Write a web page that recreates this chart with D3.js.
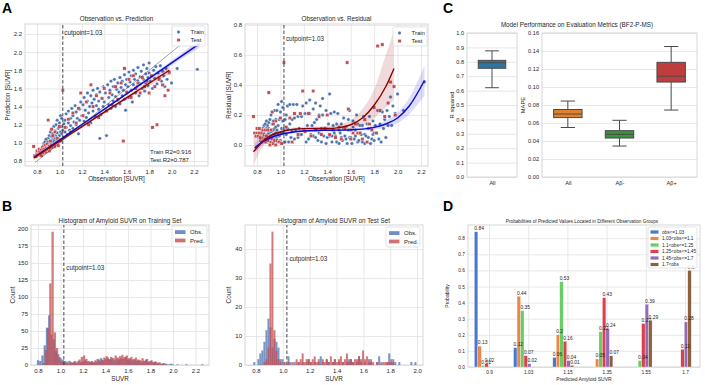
<!DOCTYPE html>
<html>
<head>
<meta charset="utf-8">
<script src="https://cdn.jsdelivr.net/npm/d3@7/dist/d3.min.js"></script>
<style>
  body { margin: 0; background: #fff; }
  svg { display: block; }
</style>
</head>
<body>
<div id="fig"></div>
<script>
// ---------- data ----------
var cutpoint = 1.03;
var r2TrainText = "Train R2=0.916", r2TestText = "Test R2=0.787";

// [observation, prediction]
var trainPts = [
  [0.80,0.86],[0.81,0.88],[0.82,0.87],[0.83,0.90],[0.84,0.89],[0.84,0.93],[0.85,0.88],[0.85,0.91],[0.86,0.95],[0.86,0.90],
  [0.87,0.92],[0.87,0.97],[0.87,0.89],[0.88,0.93],[0.88,0.99],[0.88,0.91],[0.89,0.94],[0.89,1.02],[0.89,0.96],[0.90,0.92],
  [0.90,0.98],[0.90,1.05],[0.90,0.95],[0.91,0.93],[0.91,1.00],[0.91,0.97],[0.91,1.08],[0.92,0.95],[0.92,1.01],[0.92,0.98],
  [0.92,1.12],[0.93,0.96],[0.93,1.03],[0.93,0.99],[0.93,1.15],[0.94,0.97],[0.94,1.04],[0.94,1.10],[0.95,0.99],[0.95,1.06],
  [0.95,1.18],[0.96,1.00],[0.96,1.08],[0.96,1.13],[0.97,1.02],[0.97,1.20],[0.97,1.07],[0.98,1.04],[0.98,1.11],[0.98,1.25],
  [0.99,1.05],[0.99,1.16],[1.00,1.08],[1.00,1.22],[1.00,1.03],[1.01,1.12],[1.01,1.30],[1.02,1.10],[1.02,1.18],[1.02,1.27],
  [0.83,0.86],[0.86,0.99],[0.88,1.04],[0.90,1.01],[0.92,0.93],[0.94,1.01],[0.96,1.04],[0.98,1.00],[0.89,0.91],[0.87,1.01],
  [0.85,0.96],[0.93,1.07],[0.95,1.02],[0.91,0.95],[0.97,0.99],
  [1.03,1.14],[1.04,1.21],[1.04,1.06],[1.05,1.25],[1.05,1.12],[1.06,1.32],[1.06,1.17],[1.07,1.09],[1.08,1.22],[1.08,1.35],
  [1.09,1.14],[1.10,1.27],[1.10,1.19],[1.11,1.38],[1.12,1.16],[1.12,1.30],[1.13,1.23],[1.14,1.41],[1.15,1.20],[1.15,1.34],
  [1.16,1.27],[1.17,1.10],[1.18,1.37],[1.18,1.25],[1.19,1.45],
  [1.20,1.30],[1.21,1.42],[1.22,1.24],[1.22,1.50],[1.23,1.36],[1.24,1.28],[1.25,1.46],[1.25,1.55],[1.26,1.33],[1.27,1.40],
  [1.28,1.52],[1.28,1.22],[1.29,1.44],[1.30,1.35],[1.30,1.58],[1.31,1.48],[1.32,1.29],[1.33,1.41],[1.33,1.53],[1.34,1.60],
  [1.35,1.37],[1.35,1.46],[1.36,1.05],[1.36,1.56],[1.37,1.31],[1.38,1.49],[1.39,1.62],[1.39,1.40],
  [1.40,1.45],[1.41,1.55],[1.42,1.08],[1.42,1.36],[1.43,1.64],[1.44,1.50],[1.44,1.42],[1.45,1.58],[1.46,1.68],[1.46,1.38],
  [1.47,1.53],[1.48,1.46],[1.48,1.62],[1.49,1.70],[1.50,1.51],[1.50,1.40],[1.51,1.59],[1.52,1.66],[1.52,1.47],[1.53,1.56],
  [1.54,1.72],[1.54,1.43],[1.55,1.61],[1.56,1.52],[1.56,1.68],[1.57,1.58],[1.58,1.75],[1.58,1.48],[1.59,1.64],[1.60,1.55],
  [1.60,1.70],[1.59,1.36],
  [1.61,1.62],[1.62,1.78],[1.62,1.50],[1.63,1.67],[1.64,1.58],[1.64,1.74],[1.65,1.45],[1.66,1.64],[1.66,1.80],[1.67,1.70],
  [1.68,1.55],[1.68,1.76],[1.69,1.62],[1.70,1.83],[1.70,1.68],[1.71,1.52],[1.72,1.73],[1.72,1.65],[1.73,1.79],[1.74,1.60],
  [1.75,1.86],[1.75,1.70],[1.76,1.57],[1.77,1.76],[1.77,1.66],[1.78,1.82],[1.79,1.63],[1.79,1.72],[1.80,1.77],[1.80,1.88],
  [1.81,1.68],[1.82,1.74],[1.83,1.60],[1.84,1.80],[1.85,1.71],[1.86,1.84],[1.87,1.65],[1.88,1.77],[1.89,1.72],[1.90,1.85],
  [1.91,1.68],[1.92,1.79],[1.93,1.74],[1.94,1.62],[1.95,1.82],[1.96,1.70],[1.98,1.77],[2.00,1.66],[2.05,1.82],[2.23,1.81]
];
var testPts = [
  [0.77,0.96],[0.78,0.86],[0.79,0.85],[0.80,0.88],[0.80,0.91],[0.81,0.87],[0.82,0.90],[0.82,0.93],[0.83,0.88],[0.84,0.92],
  [0.84,0.86],[0.85,0.90],[0.85,0.95],[0.86,0.89],[0.86,0.93],[0.87,0.91],[0.87,0.97],[0.88,0.90],[0.88,0.94],[0.89,0.92],
  [0.89,0.99],[0.90,1.25],[0.90,0.93],[0.91,0.96],[0.91,0.91],[0.92,1.02],[0.92,0.94],[0.93,0.97],[0.93,1.15],[0.94,0.95],
  [0.94,1.08],[0.95,0.98],[0.96,0.96],[0.96,1.12],[0.97,1.00],[0.98,1.05],[0.99,0.97],[1.00,1.18],[1.01,1.02],
  [1.03,1.58],[1.05,1.17],[1.08,1.26],[1.10,1.12],[1.12,1.33],[1.15,1.22],[1.17,1.38],[1.19,1.55],[1.21,1.30],[1.24,1.45],
  [1.26,1.20],[1.28,1.64],[1.30,1.40],[1.33,1.52],[1.35,1.28],[1.38,1.49],[1.40,1.60],[1.42,1.35],[1.45,1.55],[1.47,1.42],
  [1.50,1.62],[1.52,1.48],[1.55,1.66],[1.57,1.02],[1.58,1.82],[1.60,1.56],[1.62,1.70],[1.64,1.50],[1.66,1.74],[1.68,1.60],
  [1.70,1.66],[1.72,1.55],[1.74,1.72],[1.76,1.62],[1.78,1.68],[1.80,1.55],[1.82,1.74],[1.83,1.17],[1.85,1.62],[1.87,1.20],
  [1.89,1.70],[1.92,1.64],[1.94,1.52],[1.97,1.58],[1.98,1.78]
];

// linear fits (panel A, left)
var identityX = [0.78, 2.18];
var trainLineX  = [0.78, 1.0, 1.3, 1.7, 2.25];
var trainLineY  = [0.844, 1.031, 1.286, 1.626, 2.094];
var trainLineLo = [0.826, 1.021, 1.278, 1.614, 2.054];
var trainLineHi = [0.862, 1.041, 1.294, 1.638, 2.134];
var testLineX   = [0.77, 1.0, 1.3, 1.7, 1.98];
var testLineY   = [0.835, 1.018, 1.258, 1.577, 1.80];
var testLineLo  = [0.805, 1.000, 1.243, 1.552, 1.755];
var testLineHi  = [0.865, 1.036, 1.273, 1.602, 1.845];

// polynomial fits of residuals (panel A, right)
var trainResX  = [0.78, 0.85, 0.92, 1.0, 1.1, 1.2, 1.3, 1.4, 1.5, 1.6, 1.7, 1.8, 1.9, 2.0, 2.1, 2.23];
var trainResY  = [-0.02, 0.022, 0.05, 0.07, 0.085, 0.093, 0.097, 0.098, 0.099, 0.101, 0.106, 0.118, 0.14, 0.18, 0.26, 0.43];
var trainResLo = [-0.055, 0.0, 0.036, 0.06, 0.077, 0.086, 0.09, 0.091, 0.092, 0.093, 0.096, 0.104, 0.118, 0.145, 0.205, 0.33];
var trainResHi = [0.015, 0.044, 0.064, 0.08, 0.093, 0.1, 0.104, 0.105, 0.106, 0.109, 0.116, 0.132, 0.162, 0.215, 0.315, 0.53];
var testResX   = [0.77, 0.82, 0.87, 0.92, 1.0, 1.1, 1.2, 1.3, 1.4, 1.5, 1.6, 1.7, 1.8, 1.9, 1.97];
var testResY   = [-0.045, 0.0, 0.038, 0.064, 0.087, 0.103, 0.109, 0.11, 0.11, 0.116, 0.135, 0.18, 0.265, 0.39, 0.51];
var testResLo  = [-0.14, -0.05, 0.01, 0.045, 0.072, 0.09, 0.097, 0.097, 0.095, 0.095, 0.105, 0.13, 0.18, 0.25, 0.3];
var testResHi  = [0.06, 0.05, 0.066, 0.083, 0.102, 0.116, 0.121, 0.123, 0.125, 0.137, 0.165, 0.24, 0.37, 0.6, 0.76];

// histograms, panel B
var trainObsStart = 0.79, trainObsWidth = 0.02;
var trainObsCounts = [7,6,14,29,55,73,45,38,21,16,10,8,6,5,6,4,5,3,6,4,5,7,5,4,6,4,5,8,10,7,
  9,11,8,10,7,9,8,10,9,12,8,9,7,8,6,7,5,6,8,5,6,4,5,3,4,2,3,2,1,2,1,0,1,0,0,0,1,0,0,0,0,0,0,1];
var trainPredStart = 0.84, trainPredWidth = 0.02;
var trainPredCounts = [3,22,54,120,196,48,25,12,6,4,3,2,4,3,6,4,8,12,14,9,6,5,4,7,9,6,8,11,13,9,
  12,10,14,11,13,15,12,14,10,12,9,11,8,7,10,6,9,5,7,4,5,3,2,2,1];
var testObsStart = 0.78, testObsWidth = 0.015;
var testObsCounts = [1,0,2,4,5,8,12,16,13,6,9,8,6,2,2,1,0,3,1,0,1,0,1,0,1,0,1,2,1,0,
  1,0,1,3,1,0,2,1,0,1,2,0,1,0,1,0,1,2,2,1,0,1,3,1,0,1,0,2,1,0,0,1,3,0,1,0,1,4,1,2,1,0,1,0,0,0,0,0,1,0,1];
var testPredStart = 0.84, testPredWidth = 0.015;
var testPredCounts = [0,1,2,6,35,46,12,5,2,1,0,1,0,1,0,1,0,2,1,2,4,1,2,2,1,2,3,1,2,0,
  2,1,2,1,3,1,2,1,2,3,1,2,4,1,2,1,2,2,3,2,5,2,3,1,2,1,0,1,0,1,0,1,1,1,2,1];

// box plots, panel C
var r2Groups = ["All"];
var r2Lo = [0.62], r2Q1 = [0.755], r2Med = [0.793], r2Q3 = [0.81], r2Hi = [0.876];
var mapeGroups = ["All", "A\u03b2-", "A\u03b2+"];
var mapeLo  = [0.055, 0.0344, 0.0744];
var mapeQ1  = [0.066, 0.0433, 0.1055];
var mapeMed = [0.070, 0.0474, 0.112];
var mapeQ3  = [0.075, 0.0515, 0.1274];
var mapeHi  = [0.0844, 0.063, 0.145];

// grouped bars, panel D
var predGroups = ["0.9", "1.03", "1.15", "1.35", "1.55", "1.7"];
var obsGroupNames = ["obs<=1.03", "1.03<obs<=1.1", "1.1<obs<=1.25", "1.25<obs<=1.45", "1.45<obs<=1.7", "1.7<obs"];
var probObsLe103   = [0.84, 0.12, 0.06, 0, 0, 0];
var probObs103to11 = [0.13, 0.44, 0.2, 0.05, 0, 0];
var probObs11to125 = [0.01, 0.35, 0.53, 0.22, 0.04, 0];
var probObs125to145 = [0.02, 0.07, 0.16, 0.43, 0.27, 0.11];
var probObs145to17 = [0, 0.02, 0.04, 0.24, 0.39, 0.28];
var probObsGt17    = [0, 0, 0.01, 0.07, 0.29, 0.6];

// tick labels
var suvrTicks = [0.8, 1.0, 1.2, 1.4, 1.6, 1.8, 2.0, 2.2];
var suvrTicksTest = [0.8, 1.0, 1.2, 1.4, 1.6, 1.8, 2.0];
var residTicks = [0.0, 0.2, 0.4, 0.6, 0.8];
var countTicksTrain = [0, 25, 50, 75, 100, 125, 150, 175, 200];
var countTicksTest = [0, 10, 20, 30, 40];
var r2Ticks = [0, 0.1, 0.2, 0.3, 0.4, 0.5, 0.6, 0.7, 0.8, 0.9, 1.0];
var mapeTicks = [0, 0.02, 0.04, 0.06, 0.08, 0.10, 0.12, 0.14, 0.16];
var probTicks = [0, 0.1, 0.2, 0.3, 0.4, 0.5, 0.6, 0.7, 0.8];

// ---------- drawing ----------
var FONT = "Liberation Sans, Arial, sans-serif";
var BLUE = "#4c72b0", RED = "#c44e52";
var FIT_BLUE = "#0b0bd0", FIT_RED = "#900000";

var svg = d3.select("#fig").append("svg").attr("width", 705).attr("height", 385);
svg.append("rect").attr("width", 705).attr("height", 385).attr("fill", "#fff");

function txt(x, y, s, size, o) {
  o = o || {};
  var t = svg.append("text")
    .attr("x", x).attr("y", y)
    .attr("font-family", FONT)
    .attr("font-size", size)
    .attr("fill", o.fill || "#262626")
    .attr("text-anchor", o.anchor || "start")
    .attr("font-weight", o.bold ? "bold" : null)
    .text(s);
  if (o.rotate) {
    t.attr("x", 0).attr("y", 0).attr("dy", "0.35em")
      .attr("transform", "translate(" + x + "," + y + ") rotate(-90)");
  }
  return t;
}

function panel(box, x, y, o) {
  var w = box[2] - box[0], h = box[3] - box[1];
  x.range([0, w]);
  y.range([h, 0]);
  var g = svg.append("g").attr("transform", "translate(" + box[0] + "," + box[1] + ")");
  var xa = d3.axisBottom(x).tickValues(o.xTicks).tickFormat(o.xFormat)
    .tickSize(o.xGrid ? -h : 0).tickPadding(o.xPad || 3.5);
  var ya = d3.axisLeft(y).tickValues(o.yTicks).tickFormat(o.yFormat)
    .tickSize(-w).tickPadding(o.yPad || 3);
  var gx = g.append("g").attr("transform", "translate(0," + h + ")").call(xa);
  var gy = g.append("g").call(ya);
  [gx, gy].forEach(function(a) {
    a.attr("font-family", FONT).attr("font-size", o.fs);
    a.select(".domain").remove();
    a.selectAll(".tick line").attr("stroke", "#e2e2e2").attr("stroke-width", 0.8);
    a.selectAll(".tick text").attr("fill", "#262626");
  });
  g.append("rect").attr("width", w).attr("height", h)
    .attr("fill", "none").attr("stroke", "#d2d2d2").attr("stroke-width", 0.9);
  return g;
}

function cutLine(g, x, y, tx, ty) {
  g.append("line")
    .attr("x1", x(cutpoint)).attr("x2", x(cutpoint))
    .attr("y1", y.range()[0]).attr("y2", y.range()[1])
    .attr("stroke", "#333").attr("stroke-width", 0.9)
    .attr("stroke-dasharray", "3.5,2");
  g.append("text").attr("x", x(cutpoint) + tx).attr("y", ty)
    .attr("font-family", FONT).attr("font-size", 6.3).attr("fill", "#262626")
    .text("cutpoint=" + cutpoint);
}

function band(g, x, y, xs, lo, hi, color, op) {
  var area = d3.area().curve(d3.curveMonotoneX)
    .x(function(d, i) { return x(xs[i]); })
    .y0(function(d, i) { return y(lo[i]); })
    .y1(function(d, i) { return y(hi[i]); });
  g.append("path").datum(xs).attr("d", area)
    .attr("fill", color).attr("fill-opacity", op).attr("stroke", "none");
}

function fitLine(g, x, y, xs, ys, color) {
  var line = d3.line().curve(d3.curveMonotoneX)
    .x(function(d, i) { return x(xs[i]); })
    .y(function(d, i) { return y(ys[i]); });
  g.append("path").datum(xs).attr("d", line)
    .attr("fill", "none").attr("stroke", color).attr("stroke-width", 1.4);
}

function scatter(g, x, y, pts, getY, kind, color) {
  if (kind === "circle") {
    g.selectAll(null).data(pts).enter().append("circle")
      .attr("cx", function(d) { return x(d[0]); })
      .attr("cy", function(d) { return y(getY(d)); })
      .attr("r", 1.7)
      .attr("fill", color).attr("stroke", "#fff").attr("stroke-width", 0.35);
  } else {
    g.selectAll(null).data(pts).enter().append("rect")
      .attr("x", function(d) { return x(d[0]) - 1.65; })
      .attr("y", function(d) { return y(getY(d)) - 1.65; })
      .attr("width", 3.3).attr("height", 3.3)
      .attr("fill", color).attr("stroke", "#fff").attr("stroke-width", 0.35);
  }
}

function scatterLegend(x0, y0, w, h) {
  svg.append("rect").attr("x", x0).attr("y", y0).attr("width", w).attr("height", h)
    .attr("rx", 1.5).attr("fill", "#fff").attr("fill-opacity", 0.85)
    .attr("stroke", "#d8d8d8").attr("stroke-width", 0.7);
  svg.append("circle").attr("cx", x0 + 6.5).attr("cy", y0 + 6).attr("r", 1.7)
    .attr("fill", BLUE).attr("stroke", "#fff").attr("stroke-width", 0.35);
  svg.append("rect").attr("x", x0 + 4.9).attr("y", y0 + 12.4).attr("width", 3.3).attr("height", 3.3)
    .attr("fill", RED).attr("stroke", "#fff").attr("stroke-width", 0.35);
  txt(x0 + 18.5, y0 + 8, "Train", 6);
  txt(x0 + 18.5, y0 + 16.3, "Test", 6);
}

function histLegend(x0, y0, w, h) {
  svg.append("rect").attr("x", x0).attr("y", y0).attr("width", w).attr("height", h)
    .attr("rx", 1.5).attr("fill", "#fff").attr("fill-opacity", 0.85)
    .attr("stroke", "#d8d8d8").attr("stroke-width", 0.7);
  svg.append("rect").attr("x", x0 + 3).attr("y", y0 + 4.2).attr("width", 10.5).attr("height", 3.8)
    .attr("fill", BLUE).attr("fill-opacity", 0.8);
  svg.append("rect").attr("x", x0 + 3).attr("y", y0 + 12.6).attr("width", 10.5).attr("height", 3.8)
    .attr("fill", RED).attr("fill-opacity", 0.8);
  txt(x0 + 18, y0 + 8.3, "Obs.", 6);
  txt(x0 + 18, y0 + 16.7, "Pred.", 6);
}

function hist(g, x, y, start, width, counts, color) {
  g.selectAll(null).data(counts).enter().append("rect")
    .attr("x", function(d, i) { return x(start + i * width); })
    .attr("y", function(d) { return y(d); })
    .attr("width", function(d, i) { return x(start + (i + 1) * width) - x(start + i * width); })
    .attr("height", function(d) { return y(0) - y(d); })
    .attr("fill", color).attr("fill-opacity", 0.75);
}

var f1 = d3.format(".1f"), f2 = d3.format(".2f");

// ---- Panel A, left: observation vs prediction
var xA1 = d3.scaleLinear().domain([0.693, 2.325]);
var yA1 = d3.scaleLinear().domain([0.745, 2.31]);
var gA1 = panel([25, 24, 208, 166], xA1, yA1,
  { xTicks: suvrTicks, xFormat: f1, yTicks: suvrTicks, yFormat: f1, xGrid: true, fs: 6 });
scatter(gA1, xA1, yA1, trainPts, function(d) { return d[1]; }, "circle", BLUE);
scatter(gA1, xA1, yA1, testPts, function(d) { return d[1]; }, "square", RED);
band(gA1, xA1, yA1, trainLineX, trainLineLo, trainLineHi, FIT_BLUE, 0.18);
band(gA1, xA1, yA1, testLineX, testLineLo, testLineHi, FIT_RED, 0.18);
fitLine(gA1, xA1, yA1, trainLineX, trainLineY, FIT_BLUE);
fitLine(gA1, xA1, yA1, testLineX, testLineY, FIT_RED);
gA1.append("line")
  .attr("x1", xA1(identityX[0])).attr("y1", yA1(identityX[0]))
  .attr("x2", xA1(identityX[1])).attr("y2", yA1(identityX[1]))
  .attr("stroke", "#444").attr("stroke-width", 0.5);
cutLine(gA1, xA1, yA1, 1.5, 11);
txt(150, 154, r2TrainText, 6);
txt(150, 162, r2TestText, 6);
scatterLegend(172, 26, 33, 20);
txt(116.5, 20.5, "Observation vs. Prediction", 6.3, { anchor: "middle" });
txt(116.5, 181, "Observation [SUVR]", 6.3, { anchor: "middle" });
txt(7.5, 95, "Prediction [SUVR]", 6.3, { anchor: "middle", rotate: true });

// ---- Panel A, right: observation vs residual
var absRes = function(d) { return Math.abs(d[0] - d[1]); };
var xA2 = d3.scaleLinear().domain([0.6975, 2.26]);
var yA2 = d3.scaleLinear().domain([-0.14, 0.807]);
var gA2 = panel([245, 24, 428, 166], xA2, yA2,
  { xTicks: suvrTicks, xFormat: f1, yTicks: residTicks, yFormat: f1, xGrid: true, fs: 6 });
scatter(gA2, xA2, yA2, trainPts, absRes, "circle", BLUE);
scatter(gA2, xA2, yA2, testPts, absRes, "square", RED);
band(gA2, xA2, yA2, trainResX, trainResLo, trainResHi, FIT_BLUE, 0.14);
band(gA2, xA2, yA2, testResX, testResLo, testResHi, FIT_RED, 0.14);
fitLine(gA2, xA2, yA2, trainResX, trainResY, FIT_BLUE);
fitLine(gA2, xA2, yA2, testResX, testResY, FIT_RED);
cutLine(gA2, xA2, yA2, 2, 17);
scatterLegend(393, 27, 34, 19);
txt(336.5, 20.5, "Observation vs. Residual", 6.3, { anchor: "middle" });
txt(336.5, 181, "Observation [SUVR]", 6.3, { anchor: "middle" });
txt(228.5, 95, "Residual [SUVR]", 6.3, { anchor: "middle", rotate: true });

// ---- Panel B, left: training histogram
var xB1 = d3.scaleLinear().domain([0.738, 2.32]);
var yB1 = d3.scaleLinear().domain([0, 205.9]);
var gB1 = panel([31, 225, 209, 365], xB1, yB1,
  { xTicks: suvrTicks, xFormat: f1, yTicks: countTicksTrain, yFormat: d3.format("d"), xGrid: true, fs: 6 });
hist(gB1, xB1, yB1, trainObsStart, trainObsWidth, trainObsCounts, BLUE);
hist(gB1, xB1, yB1, trainPredStart, trainPredWidth, trainPredCounts, RED);
cutLine(gB1, xB1, yB1, 2.5, 45);
histLegend(172, 226, 35, 21);
txt(120, 222.5, "Histogram of Amyloid SUVR on Training Set", 6.3, { anchor: "middle" });
txt(120, 380.5, "SUVR", 6.3, { anchor: "middle" });
txt(12.5, 295, "Count", 6.3, { anchor: "middle", rotate: true });

// ---- Panel B, right: test histogram
var xB2 = d3.scaleLinear().domain([0.718, 2.044]);
var yB2 = d3.scaleLinear().domain([0, 48.3]);
var gB2 = panel([245, 225, 423, 365], xB2, yB2,
  { xTicks: suvrTicksTest, xFormat: f1, yTicks: countTicksTest, yFormat: d3.format("d"), xGrid: true, fs: 6 });
hist(gB2, xB2, yB2, testObsStart, testObsWidth, testObsCounts, BLUE);
hist(gB2, xB2, yB2, testPredStart, testPredWidth, testPredCounts, RED);
cutLine(gB2, xB2, yB2, 2.5, 36);
histLegend(386, 227, 34, 20);
txt(334, 222.5, "Histogram of Amyloid SUVR on Test Set", 6.3, { anchor: "middle" });
txt(334, 380.5, "SUVR", 6.3, { anchor: "middle" });
txt(228.5, 295, "Count", 6.3, { anchor: "middle", rotate: true });

// ---- Panel C: box plots
function boxes(g, x, y, lo, q1, med, q3, hi, colors) {
  var bw = (x(1) - x(0)) * 0.55;
  lo.forEach(function(v, i) {
    var cx = x(i), c = "#4a4a4a";
    g.append("line").attr("x1", cx).attr("x2", cx).attr("y1", y(lo[i])).attr("y2", y(q1[i]))
      .attr("stroke", c).attr("stroke-width", 1);
    g.append("line").attr("x1", cx).attr("x2", cx).attr("y1", y(q3[i])).attr("y2", y(hi[i]))
      .attr("stroke", c).attr("stroke-width", 1);
    [lo[i], hi[i]].forEach(function(w) {
      g.append("line").attr("x1", cx - bw / 4).attr("x2", cx + bw / 4)
        .attr("y1", y(w)).attr("y2", y(w)).attr("stroke", c).attr("stroke-width", 1);
    });
    g.append("rect").attr("x", cx - bw / 2).attr("y", y(q3[i]))
      .attr("width", bw).attr("height", y(q1[i]) - y(q3[i]))
      .attr("fill", colors[i]).attr("stroke", c).attr("stroke-width", 1);
    g.append("line").attr("x1", cx - bw / 2).attr("x2", cx + bw / 2)
      .attr("y1", y(med[i])).attr("y2", y(med[i])).attr("stroke", c).attr("stroke-width", 1);
  });
}
var xC1 = d3.scaleLinear().domain([-0.5, 0.5]);
var yC1 = d3.scaleLinear().domain([0, 1.0]);
var gC1 = panel([467, 33, 517, 177], xC1, yC1,
  { xTicks: [0], xFormat: function(d) { return r2Groups[d]; }, yTicks: r2Ticks, yFormat: f1, xGrid: false, fs: 5.6, xPad: 4 });
boxes(gC1, xC1, yC1, r2Lo, r2Q1, r2Med, r2Q3, r2Hi, ["#3274a1"]);
txt(452, 105, "R squared", 5.8, { anchor: "middle", rotate: true });

var xC2 = d3.scaleLinear().domain([-0.5, 2.5]);
var yC2 = d3.scaleLinear().domain([0, 0.16]);
var gC2 = panel([542, 33, 697, 177], xC2, yC2,
  { xTicks: [0, 1, 2], xFormat: function(d) { return mapeGroups[d]; }, yTicks: mapeTicks, yFormat: f2, xGrid: false, fs: 5.6, xPad: 4 });
boxes(gC2, xC2, yC2, mapeLo, mapeQ1, mapeMed, mapeQ3, mapeHi, ["#e1812c", "#3a923a", "#c03d3e"]);
txt(523, 105, "MAPE", 5.8, { anchor: "middle", rotate: true });
txt(577, 26.5, "Model Performance on Evaluation Metrics (BF2-P-MS)", 6.3, { anchor: "middle" });

// ---- Panel D: grouped bars
var dSeries = [probObsLe103, probObs103to11, probObs11to125, probObs125to145, probObs145to17, probObsGt17];
var dColors = ["#4878d0", "#ee854a", "#6acc64", "#d9414f", "#956cb4", "#8c613c"];
var xD = d3.scaleLinear().domain([-0.536, 5.383]);
var yD = d3.scaleLinear().domain([0, 0.882]);
var gD = panel([468, 225, 700, 367], xD, yD,
  { xTicks: [0, 1, 2, 3, 4, 5], xFormat: function(d) { return predGroups[d]; }, yTicks: probTicks, yFormat: f1, xGrid: true, fs: 4.8, xPad: 3.5 });
var barW = 0.089;
// all bars first, value labels on top of them
dSeries.forEach(function(vals, j) {
  var off = (j - 3.7) * barW;
  gD.selectAll(null).data(vals).enter().append("rect")
    .attr("x", function(d, i) { return xD(i + off - barW / 2); })
    .attr("y", function(d) { return yD(d); })
    .attr("width", xD(barW) - xD(0))
    .attr("height", function(d) { return yD(0) - yD(d); })
    .attr("fill", dColors[j]).attr("stroke", "#fff").attr("stroke-width", 0.3);
});
dSeries.forEach(function(vals, j) {
  var off = (j - 3.7) * barW;
  vals.forEach(function(v, i) {
    if (v <= 0) return;
    gD.append("text")
      .attr("x", xD(i + off - barW / 2))
      .attr("y", yD(v) - 1.6)
      .attr("font-family", FONT).attr("font-size", 4.9).attr("fill", "#262626")
      .text(String(v));
  });
});
// legend D
svg.append("rect").attr("x", 648).attr("y", 227).attr("width", 49).attr("height", 41)
  .attr("rx", 1.5).attr("fill", "#fff").attr("fill-opacity", 0.85)
  .attr("stroke", "#d8d8d8").attr("stroke-width", 0.7);
obsGroupNames.forEach(function(name, j) {
  var yy = 232 + j * 6.5;
  svg.append("rect").attr("x", 650.5).attr("y", yy - 1.6).attr("width", 8).attr("height", 3.2)
    .attr("fill", dColors[j]);
  txt(662, yy + 1.7, name, 4.7);
});
txt(582, 223, "Probabilities of Predicted Values Located in Different Observation Groups", 4.7, { anchor: "middle" });
txt(584, 381, "Predicted Amyloid SUVR", 5, { anchor: "middle" });
txt(447, 296, "Probability", 5, { anchor: "middle", rotate: true });

// panel letters
txt(2, 12.5, "A", 14, { bold: true, fill: "#000" });
txt(2, 210.5, "B", 14, { bold: true, fill: "#000" });
txt(443, 12.5, "C", 14, { bold: true, fill: "#000" });
txt(443, 210.5, "D", 14, { bold: true, fill: "#000" });
</script>
</body>
</html>
